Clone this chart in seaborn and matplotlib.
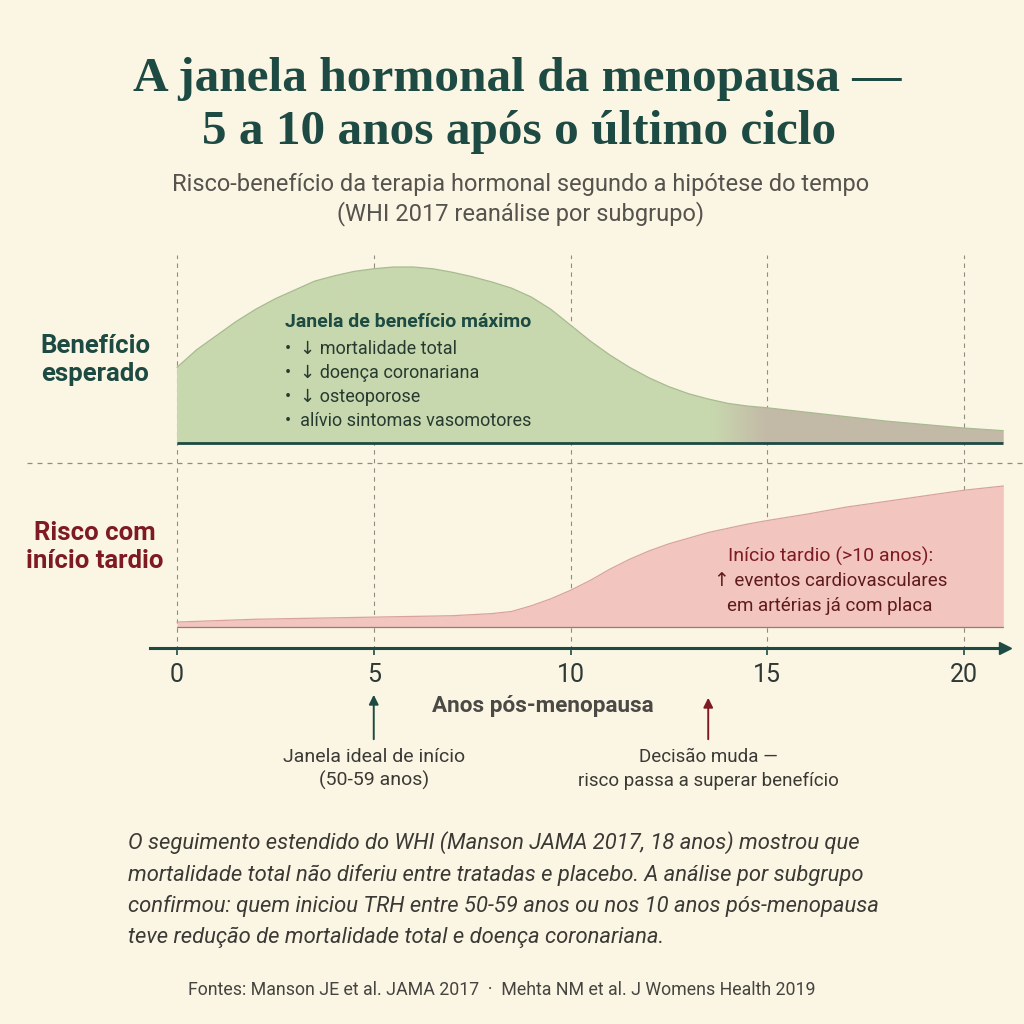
import numpy as np
import matplotlib.pyplot as plt
import matplotlib.colors as mcolors
from matplotlib.lines import Line2D
import seaborn as sns

sns.set_theme(style="white")
plt.rcParams['font.family'] = ['Roboto', 'DejaVu Sans']

# --- DATA ---
benefit_years = [0, 0.5, 1, 1.5, 2, 2.5, 3, 3.5, 4, 4.5, 5, 5.5, 6, 6.5, 7, 7.5, 8, 8.5,
                 9, 9.5, 10, 10.5, 11, 11.5, 12, 12.5, 13, 13.5, 14, 14.5, 15, 16, 17,
                 18, 19, 20, 21]
benefit = [0.43, 0.53, 0.61, 0.69, 0.76, 0.82, 0.87, 0.92, 0.95, 0.975, 0.99, 1.0, 1.0,
           0.99, 0.97, 0.945, 0.915, 0.88, 0.83, 0.76, 0.67, 0.58, 0.50, 0.43, 0.37,
           0.32, 0.28, 0.25, 0.225, 0.21, 0.20, 0.175, 0.15, 0.125, 0.105, 0.085, 0.07]
risk_years = [0, 1, 2, 3, 4, 5, 6, 7, 8, 8.5, 9, 9.5, 10, 10.5, 11, 11.5, 12, 12.5, 13,
              13.5, 14, 14.5, 15, 16, 17, 18, 19, 20, 21]
risk = [0.035, 0.045, 0.055, 0.06, 0.065, 0.07, 0.075, 0.08, 0.095, 0.11, 0.15, 0.20,
        0.26, 0.33, 0.41, 0.48, 0.54, 0.59, 0.63, 0.67, 0.70, 0.73, 0.755, 0.80, 0.85,
        0.89, 0.93, 0.97, 1.00]
tick_years = [0, 5, 10, 15, 20]
benefit_items = ["•  ↓ mortalidade total", "•  ↓ doença coronariana",
                 "•  ↓ osteoporose", "•  alívio sintomas vasomotores"]
late_lines = ["Início tardio (>10 anos):", "↑ eventos cardiovasculares",
              "em artérias já com placa"]
ideal_year = 5
switch_year = 13.5

BG = "#fbf5e4"
TEAL = "#1d4a42"
RED = "#7e1b22"
GREEN = "#c8d8ae"
TAUPE = "#c3b9a7"
PINK = "#f2c5bf"
GRID = "#8f8c82"

fig = plt.figure(figsize=(10.24, 10.24), dpi=100)
fig.patch.set_facecolor(BG)

def fy(px):
    return 1 - px / 1024

x_left_px, x_right_px = 150, 1012
px_per_year = (964 - 177) / 20
xlim = ((x_left_px - 177) / px_per_year, (x_right_px - 177) / px_per_year)
ax_pos_x = x_left_px / 1024
ax_w = (x_right_px - x_left_px) / 1024

# --- benefit panel ---
axb = fig.add_axes([ax_pos_x, fy(463), ax_w, (463 - 255) / 1024])
axb.set_facecolor("none")
axb.set_xlim(*xlim)
axb.set_ylim(-20 / 176, (443 - 255) / 176)
axb.axis("off")

poly = axb.fill_between(benefit_years, 0, benefit, color=GREEN, lw=0, zorder=2)
# gradient towards taupe after ~13.5 years
rgb_g = np.array(mcolors.to_rgb(GREEN))
rgb_t = np.array(mcolors.to_rgb(TAUPE))
gx = np.linspace(0, xlim[1], 400)
w = np.clip((gx - 13.6) / 1.4, 0, 1)
grad = (rgb_g[None, :] * (1 - w[:, None]) + rgb_t[None, :] * w[:, None])[None, :, :]
im = axb.imshow(grad, extent=[0, xlim[1], 0, 1.1], aspect="auto", zorder=3, origin="lower")
im.set_clip_path(poly.get_paths()[0], transform=axb.transData)
sns.lineplot(x=benefit_years, y=benefit, ax=axb, color="#a8bb90", lw=0.9, zorder=4)
axb.plot([0, benefit_years[-1]], [0, 0], color=TEAL, lw=2, zorder=5, solid_capstyle="butt")

axb.text(2.75, (443 - 322) / 176, "Janela de benefício máximo", fontsize=14,
         fontweight="bold", color=TEAL, va="center", zorder=6)
for i, item in enumerate(benefit_items):
    axb.text(2.75, (443 - 349 - 24 * i) / 176, item, fontsize=13,
             color="#263a30", va="center", zorder=6)

# --- risk panel ---
axr = fig.add_axes([ax_pos_x, fy(656), ax_w, (656 - 463) / 1024])
axr.set_facecolor("none")
axr.set_xlim(*xlim)
axr.set_ylim(-(656 - 627) / 141, (627 - 463) / 141)
axr.fill_between(risk_years, 0, risk, color=PINK, lw=0, zorder=2)
sns.lineplot(x=risk_years, y=risk, ax=axr, color="#d9a29b", lw=0.9, zorder=3)
axr.plot([0, risk_years[-1]], [0, 0], color="#9a7b74", lw=0.9, zorder=3)

for sp in ["top", "right", "left"]:
    axr.spines[sp].set_visible(False)
axis_y = -(648 - 627) / 141
axr.spines["bottom"].set_position(("data", axis_y))
axr.spines["bottom"].set_color(TEAL)
axr.spines["bottom"].set_linewidth(2.2)
axr.spines["bottom"].set_bounds(xlim[0], 21.0)
axr.plot([21.05], [axis_y], marker=">", color=TEAL, ms=9, clip_on=False, zorder=6)
axr.set_xticks(tick_years)
axr.set_xticklabels([str(t) for t in tick_years])
axr.tick_params(axis="x", length=5, width=1.2, color=TEAL, pad=6,
                labelsize=18, labelcolor="#2f3a36", bottom=True)
axr.set_yticks([])

for j, line in enumerate(late_lines):
    axr.text(16.6, (627 - 556 - 25 * j) / 141, line, fontsize=14 if j == 0 else 13.5,
             color=RED if j == 0 else "#5e1a1c", ha="center", va="center", zorder=6)

# vertical dashed guides
for t in tick_years:
    axb.axvline(t, ymin=0, ymax=1, color=GRID, lw=0.8, ls=(0, (4, 4)), zorder=1)
    axr.axvline(t, ymin=(656 - 650) / (656 - 463), ymax=1, color=GRID, lw=0.8,
                ls=(0, (4, 4)), zorder=1)

# horizontal separator
fig.add_artist(Line2D([27 / 1024, 1], [fy(463), fy(463)], color=GRID, lw=0.9,
                      ls=(0, (4, 4))))

# side labels
fig.text(95 / 1024, fy(360), "Benefício\nesperado", fontsize=18.5, fontweight="bold",
         color=TEAL, ha="center", va="center", linespacing=1.2)
fig.text(95 / 1024, fy(547), "Risco com\ninício tardio", fontsize=18.5, fontweight="bold",
         color=RED, ha="center", va="center", linespacing=1.2)

# axis label and arrows
fig.text(543 / 1024, fy(706), "Anos pós-menopausa", fontsize=16.2, fontweight="bold",
         color="#4a4944", ha="center", va="center")
axr.annotate("", xy=(ideal_year, fy(692)), xytext=(ideal_year, fy(742)),
             xycoords=("data", "figure fraction"), textcoords=("data", "figure fraction"),
             arrowprops=dict(arrowstyle="-|>", color=TEAL, lw=1.4, mutation_scale=14))
axr.annotate("", xy=(switch_year, fy(695)), xytext=(switch_year, fy(742)),
             xycoords=("data", "figure fraction"), textcoords=("data", "figure fraction"),
             arrowprops=dict(arrowstyle="-|>", color=RED, lw=1.4, mutation_scale=14))
axr.annotate("Janela ideal de início\n(50-59 anos)", xy=(ideal_year, fy(769)),
             xycoords=("data", "figure fraction"), ha="center", va="center",
             fontsize=14, color="#3a3934", linespacing=1.3, annotation_clip=False)
axr.annotate("Decisão muda —\nrisco passa a superar benefício", xy=(switch_year, fy(769)),
             xycoords=("data", "figure fraction"), ha="center", va="center",
             fontsize=13.5, color="#3a3934", linespacing=1.35, annotation_clip=False)

# title and subtitle
serif = ["Liberation Serif", "DejaVu Serif"]
fig.text(0.505, fy(79), "A janela hormonal da menopausa —", fontsize=35.5, fontweight="bold",
         color=TEAL, ha="center", va="center", family=serif)
fig.text(0.507, fy(132), "5 a 10 anos após o último ciclo", fontsize=35.5, fontweight="bold",
         color=TEAL, ha="center", va="center", family=serif)
fig.text(0.508, fy(184), "Risco-benefício da terapia hormonal segundo a hipótese do tempo",
         fontsize=17, color="#55534d", ha="center", va="center")
fig.text(0.508, fy(214), "(WHI 2017 reanálise por subgrupo)",
         fontsize=17, color="#55534d", ha="center", va="center")

# body text
body = ["O seguimento estendido do WHI (Manson JAMA 2017, 18 anos) mostrou que",
        "mortalidade total não diferiu entre tratadas e placebo. A análise por subgrupo",
        "confirmou: quem iniciou TRH entre 50-59 anos ou nos 10 anos pós-menopausa",
        "teve redução de mortalidade total e doença coronariana."]
for k, line in enumerate(body):
    fig.text(128 / 1024, fy(843 + 31.5 * k), line, fontsize=15.8, style="italic",
             color="#3a3934", ha="left", va="center")

fig.text(0.49, fy(990), "Fontes: Manson JE et al. JAMA 2017  ·  Mehta NM et al. J Womens Health 2019",
         fontsize=12.8, color="#45443f", ha="center", va="center")

fig.savefig("out.png", dpi=100, facecolor=BG)
